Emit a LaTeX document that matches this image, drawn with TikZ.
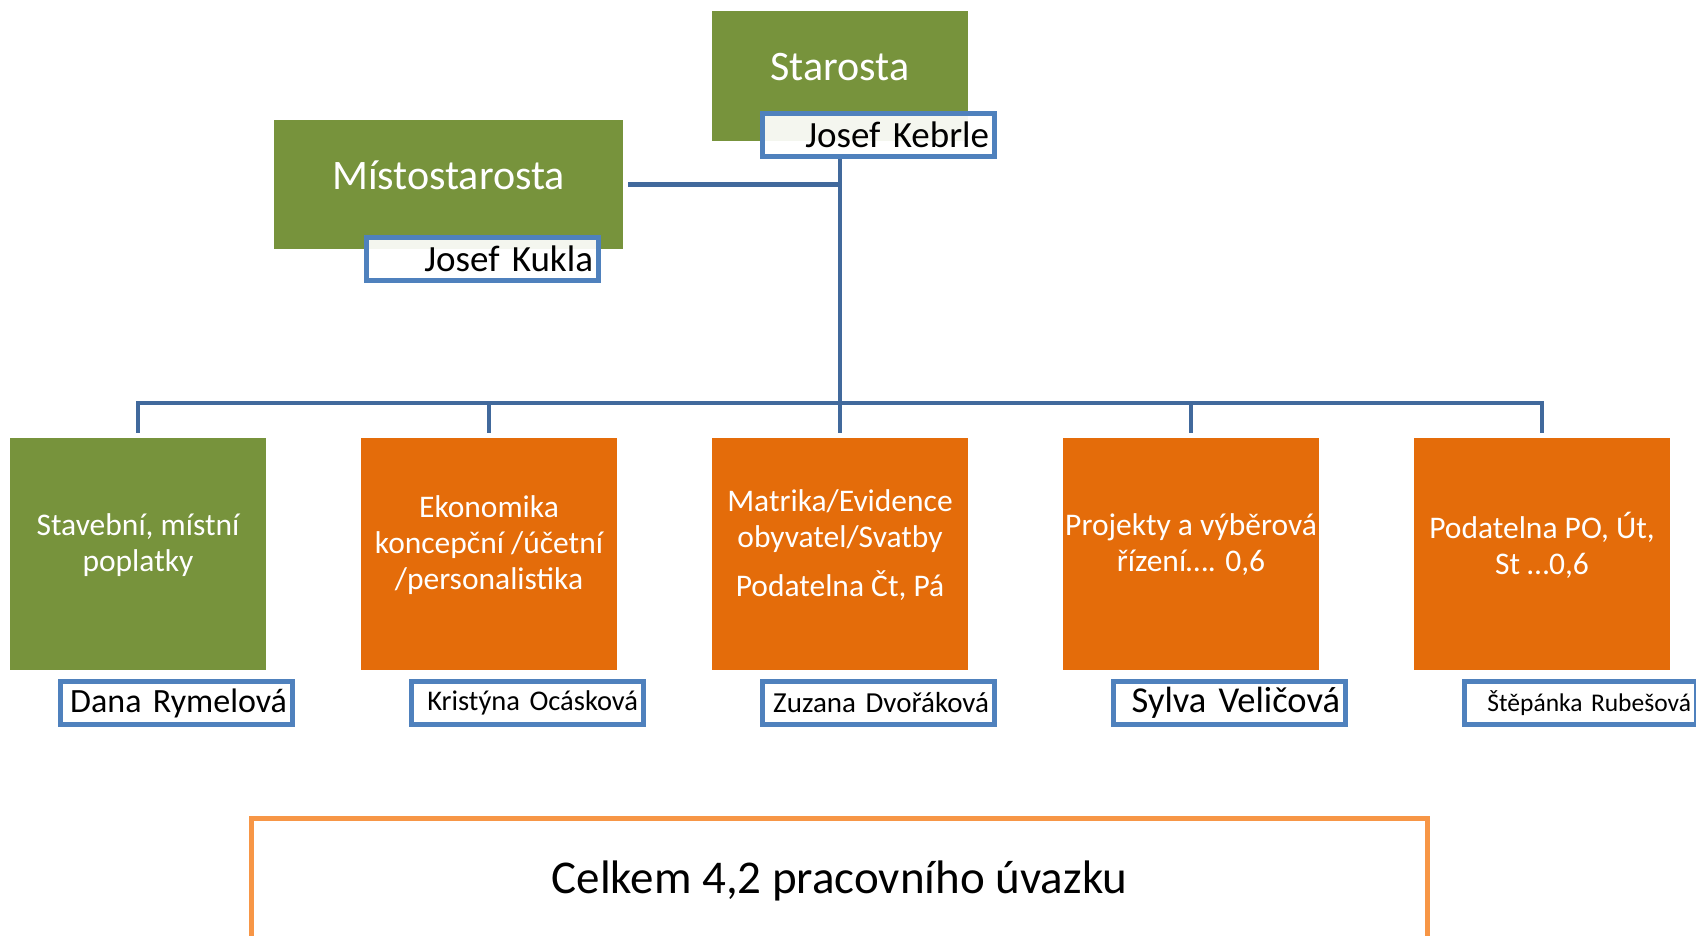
\documentclass[tikz,border=0pt]{standalone}
\usepackage{fontspec}
\setmainfont{Carlito}
\usepackage{xcolor}
\usepackage{tikz}
\usetikzlibrary{positioning,calc}

\definecolor{boxgreen}{HTML}{77933C}
\definecolor{boxorange}{HTML}{E46C0A}
\definecolor{nameblue}{HTML}{4F81BD}
\definecolor{linkblue}{HTML}{41699C}
\definecolor{sumorange}{HTML}{F79646}

\begin{document}
\begin{tikzpicture}[x=1pt, y=-1pt,
    greenbox/.style={fill=boxgreen, draw=none, inner sep=0pt},
    orangebox/.style={fill=boxorange, draw=none, inner sep=0pt, minimum width=256pt, minimum height=232pt},
    boxtext/.style={text=white, align=center, inner sep=0pt, font=\fontsize{31.5}{36}\selectfont},
    namebox/.style={draw=nameblue, line width=5pt, fill=white, fill opacity=0.92, text opacity=1,
        minimum width=232pt, minimum height=43pt, inner xsep=5.5pt, inner ysep=0pt,
        text width=221pt, align=right},
    conn/.style={draw=linkblue, line width=4.5pt}]
    \clip (0,0) rectangle (1696,936);

    % Vedeni
    \node[greenbox, minimum width=256pt, minimum height=130pt] (star) at (840,76) {};
    \node[text=white, font=\fontsize{42}{50}\selectfont] (startext) at ([yshift=9pt]star.center) {Starosta};
    \node[greenbox, minimum width=349pt, minimum height=129pt] (misto) at (448.5,184.5) {};
    \node[text=white, font=\fontsize{42}{50}\selectfont] (mistotext) at ([yshift=9pt]misto.center) {Místostarosta};

    \node[namebox, font=\fontsize{37}{44}\selectfont] (kebrle) at (878.5,135) {Josef Kebrle};
    \node[namebox, font=\fontsize{37}{44}\selectfont] (kukla) at (482.5,259) {Josef Kukla};

    % Usek
    \node[greenbox, minimum width=256pt, minimum height=232pt] (b1) at (138,554) {};
    \node[orangebox] (b2) at (489,554) {};
    \node[orangebox] (b3) at (840,554) {};
    \node[orangebox] (b4) at (1191,554) {};
    \node[orangebox] (b5) at (1542,554) {};

    \node[boxtext] (t1) at ([yshift=9pt]b1.center) {Stavební, místní\\poplatky};
    \node[boxtext] (t2) at ([yshift=9pt]b2.center) {Ekonomika\\koncepční /účetní\\/personalistika};
    \node[boxtext] (t3) at ([yshift=9pt]b3.center) {Matrika/Evidence\\obyvatel/Svatby\\[13pt]Podatelna Čt, Pá};
    \node[boxtext] (t4) at ([yshift=9pt]b4.center) {Projekty a výběrová\\řízení…. 0,6};
    \node[boxtext] (t5) at ([yshift=9pt]b5.center) {Podatelna PO, Út,\\St …0,6};

    % Jmena
    \node[namebox, font=\fontsize{34}{40}\selectfont] (n1) at (176.5,703) {Dana Rymelová};
    \node[namebox, font=\fontsize{28.5}{34}\selectfont] (n2) at (527.5,703) {Kristýna Ocásková};
    \node[namebox, font=\fontsize{29}{34}\selectfont] (n3) at (878.5,703) {Zuzana Dvořáková};
    \node[namebox, font=\fontsize{36.5}{42}\selectfont] (n4) at (1229.5,703) {Sylva Veličová};
    \node[namebox, font=\fontsize{25.5}{30}\selectfont] (n5) at (1580.5,703) {Štěpánka Rubešová};

    % Spojnice
    \coordinate (bus) at (840,403);
    \draw[conn] (kebrle.south -| star.south) -- (bus);
    \draw[conn] ([xshift=5pt]misto.east) -- (misto.east -| bus);
    \draw[conn] ([yshift=5pt]b1.north) |- (bus) -| ([yshift=5pt]b5.north);
    \foreach \b in {b2,b3,b4}
        \draw[conn] ([yshift=5pt]\b.north) -- (\b.north |- bus);

    % Celkem
    \node[draw=sumorange, line width=5pt, fill=white, minimum width=1176pt, minimum height=126pt,
        font=\fontsize{47}{54}\selectfont] (sum) at (839.5,881) {Celkem 4,2 pracovního úvazku};
\end{tikzpicture}
\end{document}
